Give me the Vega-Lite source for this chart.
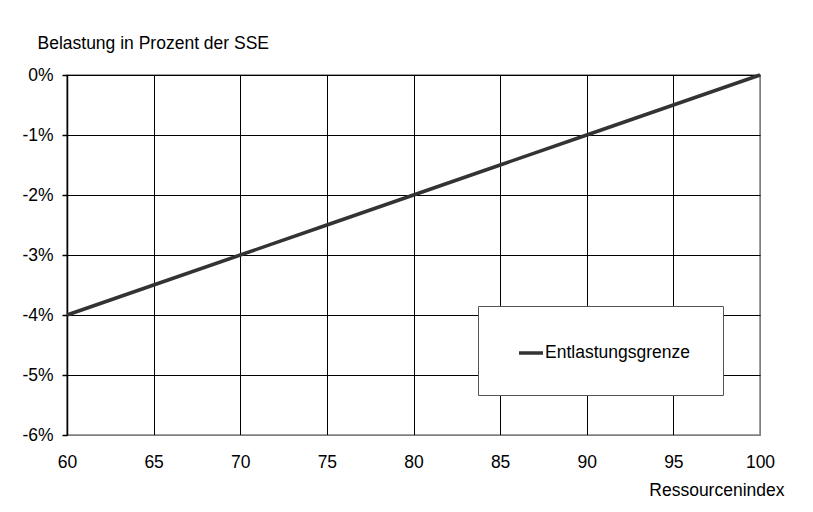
{
  "$schema": "https://vega.github.io/schema/vega-lite/v6.json",
  "width": 693,
  "height": 360,
  "autosize": {"type": "none"},
  "padding": {"left": 67, "top": 75, "right": 53, "bottom": 77},
  "background": "white",
  "config": {
    "font": "Liberation Sans",
    "view": {"stroke": "#808080", "strokeWidth": 1.5}
  },
  "data": {
    "values": [
      {"index": 60, "belastung": -4, "serie": "Entlastungsgrenze"},
      {"index": 65, "belastung": -3.5, "serie": "Entlastungsgrenze"},
      {"index": 70, "belastung": -3, "serie": "Entlastungsgrenze"},
      {"index": 75, "belastung": -2.5, "serie": "Entlastungsgrenze"},
      {"index": 80, "belastung": -2, "serie": "Entlastungsgrenze"},
      {"index": 85, "belastung": -1.5, "serie": "Entlastungsgrenze"},
      {"index": 90, "belastung": -1, "serie": "Entlastungsgrenze"},
      {"index": 95, "belastung": -0.5, "serie": "Entlastungsgrenze"},
      {"index": 100, "belastung": 0, "serie": "Entlastungsgrenze"}
    ]
  },
  "mark": {"type": "line", "strokeWidth": 3.5, "clip": false},
  "encoding": {
    "x": {
      "field": "index",
      "type": "quantitative",
      "scale": {"domain": [60, 100], "nice": false, "zero": false},
      "axis": {
        "values": [60, 65, 70, 75, 80, 85, 90, 95, 100],
        "title": "Ressourcenindex",
        "titleFont": "Liberation Sans",
        "titleFontSize": 17.5,
        "titleFontWeight": "normal",
        "titleColor": "black",
        "titleAngle": 0,
        "titleX": 717,
        "titleY": 46,
        "titleAlign": "right",
        "titleBaseline": "top",
        "domain": false,
        "ticks": false,
        "labelFontSize": 17.5,
        "labelColor": "black",
        "labelPadding": 18,
        "labelFlush": false,
        "grid": true,
        "gridColor": {"condition": {"test": "datum.value == 100", "value": "#808080"}, "value": "#000000"},
        "gridOpacity": 1,
        "gridWidth": 1
      }
    },
    "y": {
      "field": "belastung",
      "type": "quantitative",
      "scale": {"domain": [-6, 0], "nice": false, "zero": false},
      "axis": {
        "values": [-6, -5, -4, -3, -2, -1, 0],
        "labelExpr": "datum.value + '%'",
        "title": "Belastung in Prozent der SSE",
        "titleFont": "Liberation Sans",
        "titleFontSize": 17.5,
        "titleFontWeight": "normal",
        "titleColor": "black",
        "titleAngle": 0,
        "titleX": -30,
        "titleY": -27,
        "titleAlign": "left",
        "titleBaseline": "alphabetic",
        "domain": true,
        "domainColor": "#000000",
        "domainWidth": 1.5,
        "ticks": true,
        "tickSize": 5,
        "tickColor": "#000000",
        "tickWidth": 1.5,
        "labelFontSize": 17.5,
        "labelColor": "black",
        "labelPadding": 9,
        "labelFlush": false,
        "grid": true,
        "gridColor": {"condition": {"test": "datum.value == -6", "value": "#808080"}, "value": "#000000"},
        "gridOpacity": 1,
        "gridWidth": 1
      }
    },
    "color": {
      "field": "serie",
      "type": "nominal",
      "scale": {"range": ["#333333"]},
      "legend": {
        "orient": "none",
        "legendX": 411,
        "legendY": 231,
        "title": null,
        "padding": 33,
        "symbolOffset": 6,
        "symbolType": "stroke",
        "symbolSize": 576,
        "symbolStrokeWidth": 3.5,
        "labelFontSize": 17.5,
        "labelColor": "black",
        "labelOffset": 0,
        "labelLimit": 300,
        "labelExpr": "datum.label + '\u2002'",
        "fillColor": "white",
        "strokeColor": "#555555",
        "cornerRadius": 0
      }
    }
  }
}
